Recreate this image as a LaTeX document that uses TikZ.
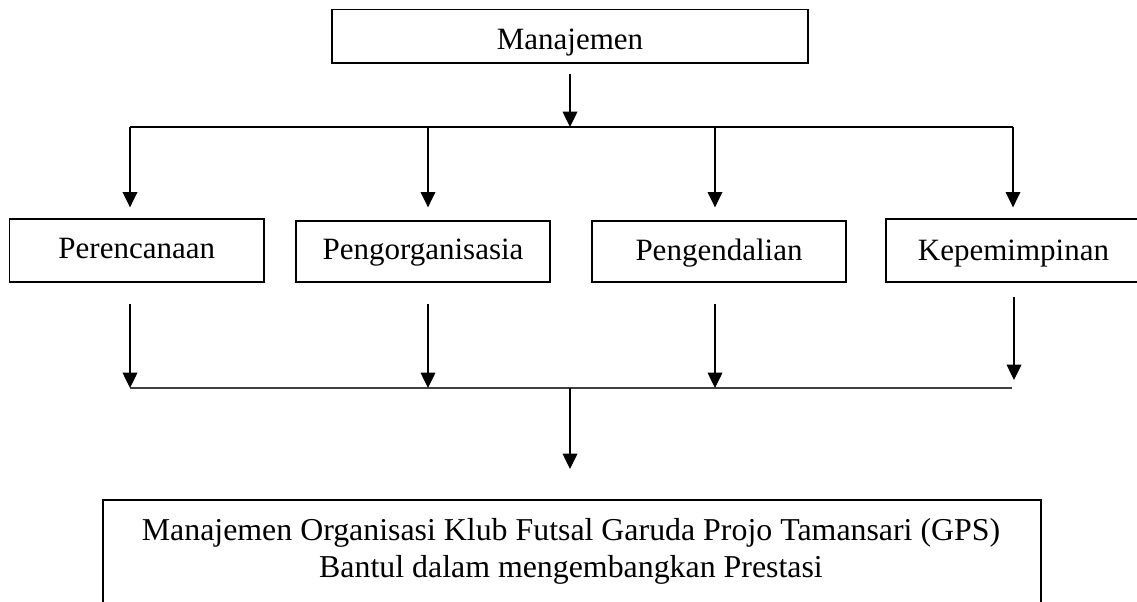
\documentclass[tikz,border=0pt]{standalone}
\usepackage{fontspec}
\setmainfont{Liberation Serif}
\usetikzlibrary{arrows.meta}
\begin{document}
\begin{tikzpicture}[x=0.75pt,y=-0.75pt,
  box/.style={draw, line width=1pt, inner sep=0pt, minimum width=190.5pt,
    font=\fontsize{23.25pt}{27.75pt}\selectfont, text depth=0pt},
  conn/.style={line width=1pt, -{Triangle[width=11pt,length=11.5pt]}},
  topbus/.style={line width=1pt},
  lowbus/.style={line width=1.3pt, black!75},
  txt/.style={align=center, inner sep=0pt, font=\fontsize{23.9pt}{27.75pt}\selectfont}
]
\useasboundingbox (0,0) rectangle (1137,601);
\fill[white] (0,0) rectangle (1137,601);
\clip (0,0) rectangle (1137,601);

% boxes
\node[box, minimum width=357pt, minimum height=40.1pt, text height=20.6pt] (man) at (570,36.25) {Manajemen};
\node[box, minimum width=190.9pt, minimum height=47.25pt, text height=11.25pt] (per) at (136.75,250.5) {Perencanaan};
\node[box, minimum height=45.75pt, text height=12pt] (org) at (423,251.5) {Pengorganisasia};
\node[box, minimum height=45.75pt, text height=12.75pt] (pen) at (719,251.5) {Pengendalian};
\node[box, minimum width=191.25pt, minimum height=47.25pt, text height=14.25pt] (kep) at (1013.5,250.5) {Kepemimpinan};

% top bus
\coordinate (ms) at (570,74);
\coordinate (tb) at (570,127);
\coordinate (t1) at (130,127);
\coordinate (t2) at (428,127);
\coordinate (t3) at (715,127);
\coordinate (t4) at (1013,127);
\draw[conn] (ms) -- (tb);
\draw[topbus] (t1) -- (t4);
\draw[conn, shorten >=8.25pt] (t1) -- (t1 |- per.north);
\draw[conn, shorten >=9.75pt] (t2) -- (t2 |- org.north);
\draw[conn, shorten >=9.75pt] (t3) -- (t3 |- pen.north);
\draw[conn, shorten >=8.25pt] (t4) -- (t4 |- kep.north);

% lower bus
\coordinate (s1) at (130,304);
\coordinate (s2) at (428,304);
\coordinate (s3) at (715,304);
\coordinate (s4) at (1014,297);
\coordinate (b1) at (130,388);
\coordinate (b2) at (428,388);
\coordinate (b3) at (715,388);
\coordinate (e4) at (1014,380);
\coordinate (bend) at (1012,388);
\coordinate (bc) at (570,388);
\coordinate (e5) at (570,469);
\draw[lowbus] (b1) -- (bend);
\draw[conn] (s1) -- (b1);
\draw[conn] (s2) -- (b2);
\draw[conn] (s3) -- (b3);
\draw[conn] (s4) -- (e4);
\draw[conn] (bc) -- (e5);

% result box (open at the bottom of the page)
\draw[line width=1pt] (103,500) rectangle (1041,640);
\node[txt] (res) at (571,551.3) {Manajemen Organisasi Klub Futsal Garuda Projo Tamansari (GPS)\\Bantul dalam mengembangkan Prestasi};
\end{tikzpicture}
\end{document}
